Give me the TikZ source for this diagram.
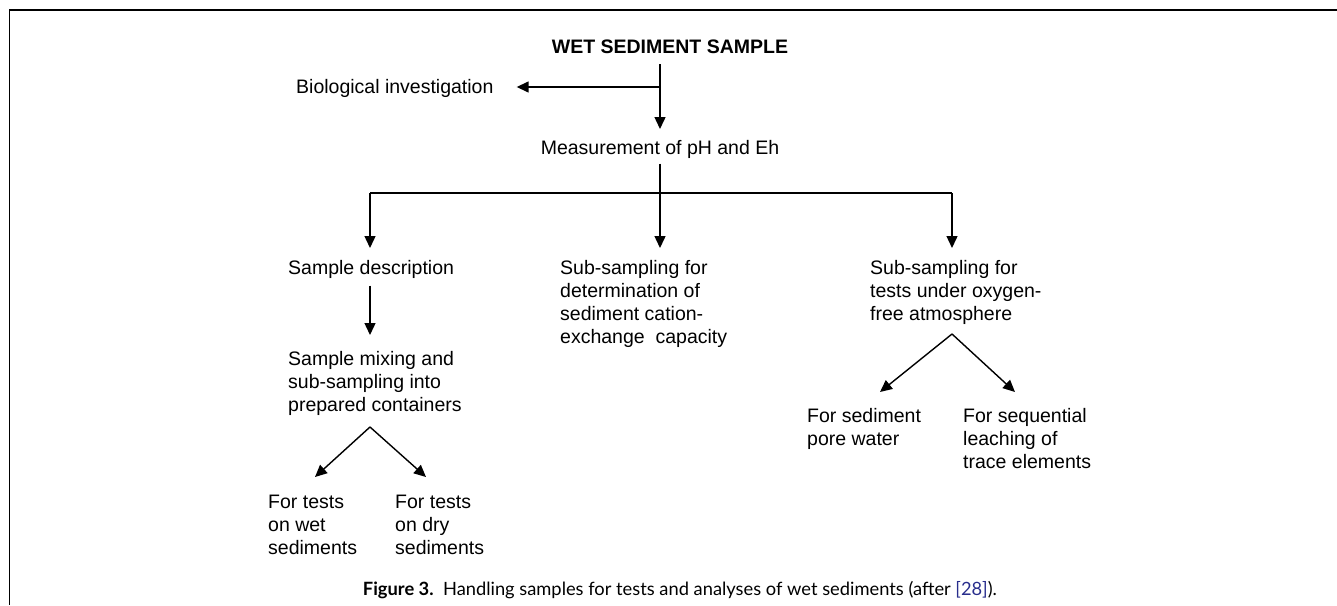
\documentclass[tikz,border=0pt]{standalone}
\usepackage{fontspec}
\setmainfont{Liberation Sans}
\newfontfamily\capfont{Lato}
\usepackage{xcolor}
\usetikzlibrary{arrows.meta,positioning,calc}
\definecolor{citeblue}{RGB}{40,45,140}

\begin{document}
\begin{tikzpicture}[x=1pt, y=-1pt,
    % ---------- styles ----------
    txt/.style={anchor=north west, inner sep=0pt, align=left,
      font=\fontsize{19.5}{23}\selectfont},
    hdr/.style={inner sep=0pt, font=\fontsize{19.5}{23}\selectfont\bfseries},
    lin/.style={line width=1.4pt},
    arr/.style={-{Triangle[length=12pt, width=11pt]}, line width=1.4pt},
    figcap/.style={inner sep=0pt, font=\capfont\fontsize{18.3}{22}\selectfont}
]

\def\xA{370}
\def\xB{660}
\def\xC{952}
\def\yBus{193}

\useasboundingbox (0,0) rectangle (1337,605);

% ====== Marco ======
\draw[line width=1.2pt] (1337,10) -- (9.5,10) -- (9.5,605);

% ====== Nivel 1 ======
\node[hdr] (title) at (670,47) {WET SEDIMENT SAMPLE};
\node[txt] (bio) at (296,79) {Biological investigation};
\node[txt, anchor=north] (meas) at (\xB,140) {Measurement of pH and Eh};

\coordinate (j0) at (\xB,87);
\draw[lin, shorten <=10pt] (title.south -| j0) -- (j0);
\draw[arr, shorten >=23pt] (j0) -- (j0 -| bio.east);
\draw[arr, shorten >=11pt] (j0) -- (meas.north);

% ====== Nivel 2 ======
\node[txt] (sdesc) at (288,260) {Sample description};
\node[txt] (cec) at (560,260) {Sub-sampling for\\determination of\\sediment cation-\\exchange\ \ capacity};
\node[txt] (oxy) at (870,260) {Sub-sampling for\\tests under oxygen-\\free atmosphere};

\coordinate (jL) at (\xA,\yBus);
\coordinate (jM) at (\xB,\yBus);
\coordinate (jR) at (\xC,\yBus);
\draw[lin, shorten <=5pt] (meas.south) -- (jM);
\draw[lin] (jL) -- (jR);
\foreach \j/\n in {jL/sdesc, jM/cec, jR/oxy} {
    \draw[arr, shorten >=12pt] (\j) -- (\j |- \n.north);
}

% ====== Columna izquierda ======
\node[txt] (smix) at (288,351) {Sample mixing and\\sub-sampling into\\prepared containers};
\node[txt] (wet) at (268,495) {For tests\\on wet\\sediments};
\node[txt] (dry) at (395,495) {For tests\\on dry\\sediments};

\draw[arr, shorten <=7pt, shorten >=16pt] (sdesc.south -| jL) -- (smix.north -| jL);
\coordinate (sp1) at (\xA,427);
\coordinate (tw) at (315,477);
\coordinate (td) at (426,477);
\draw[arr] (sp1) -- (tw);
\draw[arr] (sp1) -- (td);

% ====== Columna derecha ======
\node[txt] (pore) at (807,408) {For sediment\\pore water};
\node[txt] (seq) at (963,408) {For sequential\\leaching of\\trace elements};

\coordinate (sp2) at (\xC,334);
\coordinate (tp) at (880,392);
\coordinate (ts) at (1015,392);
\draw[arr] (sp2) -- (tp);
\draw[arr] (sp2) -- (ts);

% ====== Pie de figura ======
\node[figcap] (caption) at (680,590) {\textbf{Figure 3.}\ \ Handling samples for tests and analyses of wet sediments (after \textcolor{citeblue}{[28]}).};

\end{tikzpicture}
\end{document}
